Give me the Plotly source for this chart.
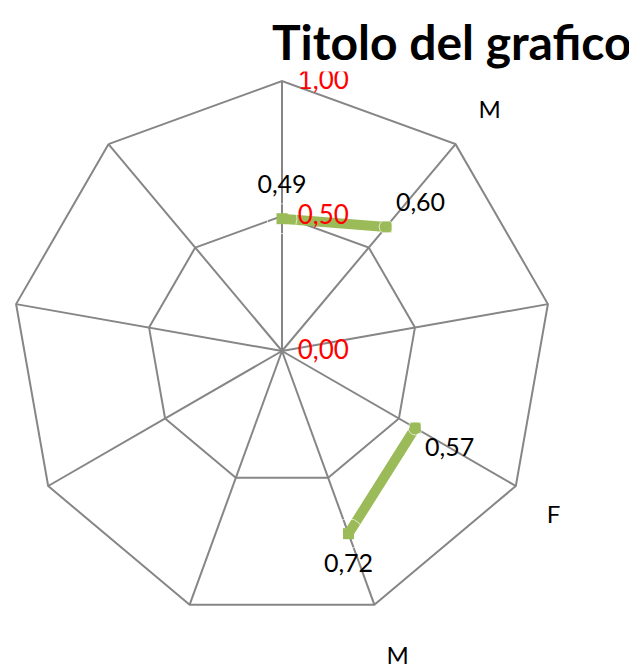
import plotly.graph_objects as go

# Data
categories = ["F", "M", "", "F", "M", "", "", "", ""]
values = [0.49, 0.60, None, 0.57, 0.72, None, None, None, None]
label_positions = ["top center", "top right", "middle center", "bottom right",
                   "bottom center", "middle center", "middle center",
                   "middle center", "middle center"]
label_gap = [30, 14, 10, 14, 30, 10, 10, 10, 10]
radial_ticks = [0, 0.5, 1.0]
title_text = "Titolo del grafico"

GREEN = "#9BBB59"
GRID = "#868686"
FONT = "Lato, Open Sans, sans-serif"

# unique category keys (duplicate labels are kept visually identical)
theta_keys = [c + "\u200b" * i for i, c in enumerate(categories)]
texts = ["" if v is None else f"{v:.2f}".replace(".", ",") for v in values]

fig = go.Figure()
fig.add_trace(go.Scatterpolar(
    r=values,
    theta=theta_keys,
    mode="lines+markers",
    line=dict(color=GREEN, width=10),
    marker=dict(symbol="square", size=11, color=GREEN),
    connectgaps=False,
    showlegend=False,
    cliponaxis=False,
))
fig.add_trace(go.Scatterpolar(
    r=values,
    theta=theta_keys,
    mode="markers+text",
    marker=dict(size=label_gap, color="rgba(0,0,0,0)"),
    text=texts,
    textposition=label_positions,
    textfont=dict(family=FONT, size=25, color="black"),
    showlegend=False,
    cliponaxis=False,
    hoverinfo="skip",
))

fig.update_layout(
    width=637, height=669,
    margin=dict(l=0, r=0, t=0, b=0),
    paper_bgcolor="white",
    plot_bgcolor="white",
    separators=",.",
    polar=dict(
        domain=dict(x=[4/637, 544/637], y=[1-613/669, 1-73/669]),
        bgcolor="white",
        gridshape="linear",
        radialaxis=dict(
            range=[0, 1],
            tickvals=radial_ticks,
            tickformat=".2f",
            angle=90,
            side="clockwise",
            tickangle=90,
            tickfont=dict(family=FONT, size=26, color="red"),
            showline=False,
            showgrid=True,
            gridcolor=GRID,
            gridwidth=2,
            ticks="outside",
            ticklen=10,
            tickcolor="rgba(0,0,0,0)",
        ),
        angularaxis=dict(
            type="category",
            categoryorder="array",
            categoryarray=theta_keys,
            direction="clockwise",
            rotation=90,
            showline=True,
            linecolor=GRID,
            linewidth=2,
            gridcolor=GRID,
            gridwidth=2,
            ticks="outside",
            ticklen=30,
            tickcolor="rgba(0,0,0,0)",
            tickfont=dict(family=FONT, size=24, color="black"),
        ),
    ),
    annotations=[dict(
        text=f"<b>{title_text}</b>",
        x=262/637, y=1-33/669, xref="paper", yref="paper",
        xanchor="left", yanchor="middle",
        showarrow=False,
        bgcolor="white",
        font=dict(family=FONT, size=48, color="black"),
    )],
)

fig.write_html("out.html")
